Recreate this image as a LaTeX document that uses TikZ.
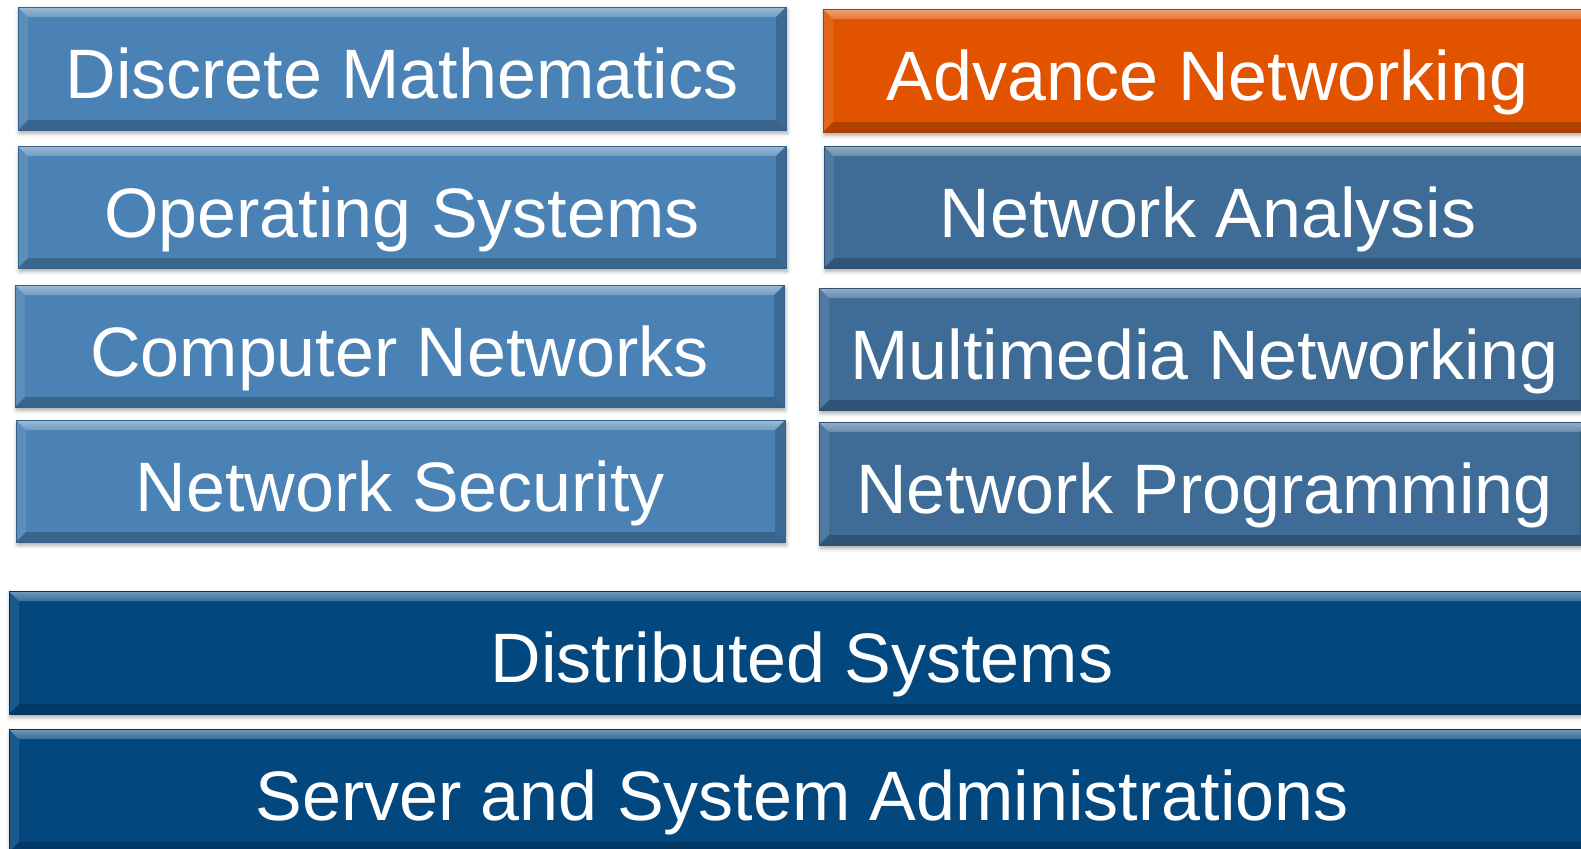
\documentclass[tikz,border=0pt]{standalone}
\usepackage{fontspec}
\setmainfont{Liberation Sans}
\usetikzlibrary{calc,shadows.blur,fadings}

\definecolor{lblue}{RGB}{74,130,181}
\definecolor{rblue}{RGB}{62,108,150}
\definecolor{orng}{RGB}{226,83,0}
\definecolor{navy}{RGB}{2,71,126}

\newcommand{\bv}{10}

\tikzset{
  bevelbox/.style={
    rectangle, fill=#1, draw=#1!75!black, line width=0.5pt,
    inner sep=0pt, text=white,
    font=\fontsize{35pt}{42pt}\selectfont,
    text height=30.4pt, text depth=0pt,
    blur shadow={shadow xshift=0.6pt, shadow yshift=-1.6pt,
                 shadow blur radius=2pt, shadow opacity=35},
    path picture={
      \coordinate (bnw) at (path picture bounding box.north west);
      \coordinate (bne) at (path picture bounding box.north east);
      \coordinate (bsw) at (path picture bounding box.south west);
      \coordinate (bse) at (path picture bounding box.south east);
      % top facet, bright along the upper edge
      \fill[white,opacity=.22] (bnw) -- (bne) -- ($(bne)+(-\bv,\bv)$) -- ($(bnw)+(\bv,\bv)$) -- cycle;
      \fill[white,opacity=.30,path fading=south] (bnw) -- (bne) -- ($(bne)+(-\bv,\bv)$) -- ($(bnw)+(\bv,\bv)$) -- cycle;
      % left facet
      \fill[white,opacity=.10] (bnw) -- ($(bnw)+(\bv,\bv)$) -- ($(bsw)+(\bv,-\bv)$) -- (bsw) -- cycle;
      % right facet
      \fill[black,opacity=.18] (bne) -- (bse) -- ($(bse)+(-\bv,-\bv)$) -- ($(bne)+(-\bv,\bv)$) -- cycle;
      % bottom facet
      \fill[black,opacity=.22] (bsw) -- (bse) -- ($(bse)+(-\bv,-\bv)$) -- ($(bsw)+(\bv,-\bv)$) -- cycle;
    }
  }
}

\begin{document}
\begin{tikzpicture}[x=0.5pt,y=-0.5pt]
  \useasboundingbox (0,0) rectangle (1581,848);

  % left column
  \node[bevelbox=lblue, minimum width=384pt,   minimum height=61.5pt] (dm) at (402,68.5)  {Discrete Mathematics};
  \node[bevelbox=lblue, minimum width=384pt,   minimum height=61pt]   (os) at (402,207)   {Operating Systems};
  \node[bevelbox=lblue, minimum width=384.5pt, minimum height=61pt]   (cn) at (399.5,346) {Computer Networks};
  \node[bevelbox=lblue, minimum width=384.5pt, minimum height=61pt]   (ns) at (400.5,481) {Network Security};

  % right column
  \node[bevelbox=orng,  minimum width=384.5pt, minimum height=61.5pt] (an) at (1207.5,70.5) {Advance Networking};
  \node[bevelbox=rblue, minimum width=384pt,   minimum height=61pt]   (na) at (1208,207)    {Network Analysis};
  \node[bevelbox=rblue, minimum width=385.5pt, minimum height=61pt]   (mm) at (1204.5,349)  {Multimedia Networking};
  \node[bevelbox=rblue, minimum width=385.5pt, minimum height=61.5pt] (np) at (1204.5,483.5) {Network Programming};

  % full-width rows
  \node[bevelbox=navy, minimum width=793pt, minimum height=61.5pt] (ds) at (802,652.5) {Distributed Systems};
  \node[bevelbox=navy, minimum width=793pt, minimum height=61.5pt] (sa) at (802,790.5) {Server and System Administrations};
\end{tikzpicture}
\end{document}
